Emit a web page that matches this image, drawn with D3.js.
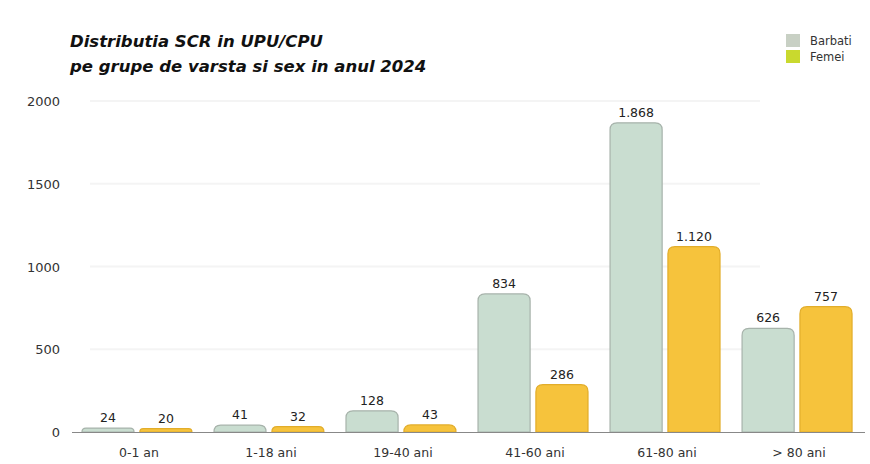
<!DOCTYPE html>
<html><head><meta charset="utf-8">
<script src="https://cdn.jsdelivr.net/npm/d3@7"></script>
<style>body{margin:0;background:#fff}svg{display:block;font-family:"DejaVu Sans",sans-serif}</style>
</head><body><svg id="c" width="870" height="464"></svg>
<script>
const categories = ["0-1 an","1-18 ani","19-40 ani","41-60 ani","61-80 ani","> 80 ani"];
const seriesNames = ["Barbati","Femei"];
const barbati = [24,41,128,834,1868,626];
const femei = [20,32,43,286,1120,757];
const yTicks = [0,500,1000,1500,2000];
const titleLines = ["Distributia SCR in UPU/CPU","pe grupe de varsta si sex in anul 2024"];

const svg = d3.select("#c");
const x0 = d3.scaleBand().domain(categories).range([71,863]).paddingInner(0.167).paddingOuter(0.083);
const x1 = d3.scaleBand().domain(seriesNames).range([0,x0.bandwidth()]).paddingInner(0.1);
const y = d3.scaleLinear().domain([0,2000]).range([432,101]);
const fills = {Barbati:"#c9ddd0",Femei:"#f6c33c"};
const strokes = {Barbati:"#a7b3ab",Femei:"#e2ad2a"};
const legendFills = {Barbati:"#c8d0c4",Femei:"#c9d92e"};
const fmt = v => v>=1000 ? d3.format(",")(v).replace(",",".") : String(v);

// faint gridlines
svg.append("g").selectAll("line").data(yTicks.slice(1)).join("line")
 .attr("x1",90).attr("x2",760).attr("y1",d=>y(d)).attr("y2",d=>y(d))
 .attr("stroke","#f4f4f4").attr("stroke-width",2);

// y axis labels
svg.append("g").selectAll("text").data(yTicks).join("text")
 .attr("x",60).attr("y",d=>y(d)+5).attr("text-anchor","end")
 .attr("font-size",13).attr("fill","#333").text(d=>d);

const data = categories.map((c,i)=>({c, vals:[{k:"Barbati",v:barbati[i]},{k:"Femei",v:femei[i]}]}));
function topRounded(x,yTop,w,h,r){
  r=Math.min(r,h,w/2);
  const b=yTop+h;
  return `M${x},${b}V${yTop+r}Q${x},${yTop} ${x+r},${yTop}H${x+w-r}Q${x+w},${yTop} ${x+w},${yTop+r}V${b}Z`;
}
const g = svg.append("g").selectAll("g").data(data).join("g").attr("transform",d=>`translate(${x0(d.c)},0)`);
g.selectAll("path").data(d=>d.vals).join("path")
 .attr("d",d=>topRounded(x1(d.k),y(d.v),x1.bandwidth(),y(0)-y(d.v),7))
 .attr("fill",d=>fills[d.k]).attr("stroke",d=>strokes[d.k]).attr("stroke-width",1.2);
g.selectAll("text.v").data(d=>d.vals).join("text").attr("class","v")
 .attr("x",d=>x1(d.k)+x1.bandwidth()/2).attr("y",d=>y(d.v)-6)
 .attr("text-anchor","middle").attr("font-size",12.5).attr("fill","#222").text(d=>fmt(d.v));

// x axis
svg.append("line").attr("x1",72).attr("x2",865).attr("y1",y(0)+0.5).attr("y2",y(0)+0.5).attr("stroke","#888").attr("stroke-width",1.2);
svg.append("g").selectAll("text").data(categories).join("text")
 .attr("x",d=>x0(d)+x0.bandwidth()/2+2).attr("y",457).attr("text-anchor","middle")
 .attr("font-size",12.5).attr("fill","#333").text(d=>d);

// title
svg.append("g").selectAll("text").data(titleLines).join("text")
 .attr("x",70).attr("y",(d,i)=>47+i*25).attr("font-size",16.5).attr("font-weight","bold")
 .attr("font-style","italic").attr("fill","#111").text(d=>d);

// legend
const lg = svg.append("g").selectAll("g").data(seriesNames).join("g")
 .attr("transform",(d,i)=>`translate(786,${34+i*16})`);
lg.append("rect").attr("width",14).attr("height",13).attr("fill",d=>legendFills[d]);
lg.append("text").attr("x",24).attr("y",11).attr("font-size",11.5).attr("fill","#333").text(d=>d);
</script></body></html>
